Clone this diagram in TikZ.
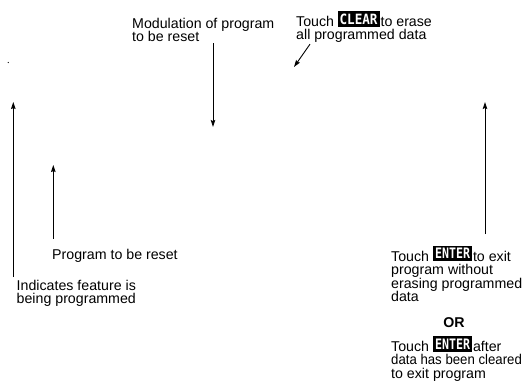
\documentclass[tikz,border=0pt]{standalone}
\usepackage{fontspec}
\usepackage{graphicx}
\setmainfont{Liberation Sans}
\newfontfamily\keyfont{DejaVu Sans Mono}
\usetikzlibrary{arrows.meta}
\newcommand\keybtn[3]{\makebox[#1][l]{\rlap{\rule{#1}{15.5pt}}\makebox[#1][c]{\raisebox{2.5pt}{\textcolor{white}{\resizebox{#2}{10.5pt}{\keyfont\bfseries #3}}}}}}
\begin{document}
\begin{tikzpicture}[x=1pt,y=-1pt,
  lbl/.style={inner sep=0pt, anchor=base west, align=left, font=\fontsize{14.2}{13.4}\selectfont},
  arr/.style={line width=0.9pt, -{Stealth[length=7pt,width=4.5pt,inset=1pt]}}]
\useasboundingbox (0,0) rectangle (524,385);
% text nodes (anchor at baseline of last line)
\node[lbl] (mod) at (132,41.5) {Modulation of program\\to be reset};
\node[lbl] (clear) at (296,40) {Touch\hspace{3.5pt}\keybtn{42pt}{38pt}{CLEAR}\hspace{1pt}to erase\\all programmed data};
\node[lbl] (prog) at (52,259) {Program to be reset};
\node[lbl] (ind) at (16.5,303.5) {Indicates feature is\\being programmed};
\node[lbl] (ent1) at (391,301.6) {Touch \keybtn{39pt}{35pt}{ENTER}\hspace{1pt}to exit\\program without\\erasing programmed\\data};
\node[lbl, anchor=base, font=\fontsize{14.2}{13.4}\selectfont\bfseries] (or) at (454,327.3) {OR};
\node[lbl] (ent2) at (391,378.3) {Touch \keybtn{39pt}{35pt}{ENTER}\hspace{1pt}after\\\scalebox{0.93}[1]{data has been cleared}\\to exit program};
% arrow tips
\coordinate (tipM) at (213,127);
\coordinate (tipC) at (294,67);
\coordinate (tipL) at (13.3,102);
\coordinate (tipP) at (53.3,165);
\coordinate (tipR) at (485,102);
% connectors
\draw[arr] ([yshift=-1.5pt]mod.south -| tipM) -- (tipM);
\draw[arr] ([xshift=14pt,yshift=-1pt]clear.south west) -- (tipC);
\draw[arr] ([yshift=2.5pt]ind.north -| tipL) -- (tipL);
\draw[arr] ([yshift=10pt]prog.north -| tipP) -- (tipP);
\draw[arr] ([yshift=11.5pt]ent1.north -| tipR) -- (tipR);
% stray dot
\fill (8.3,62.5) circle (0.6pt);
\end{tikzpicture}
\end{document}
